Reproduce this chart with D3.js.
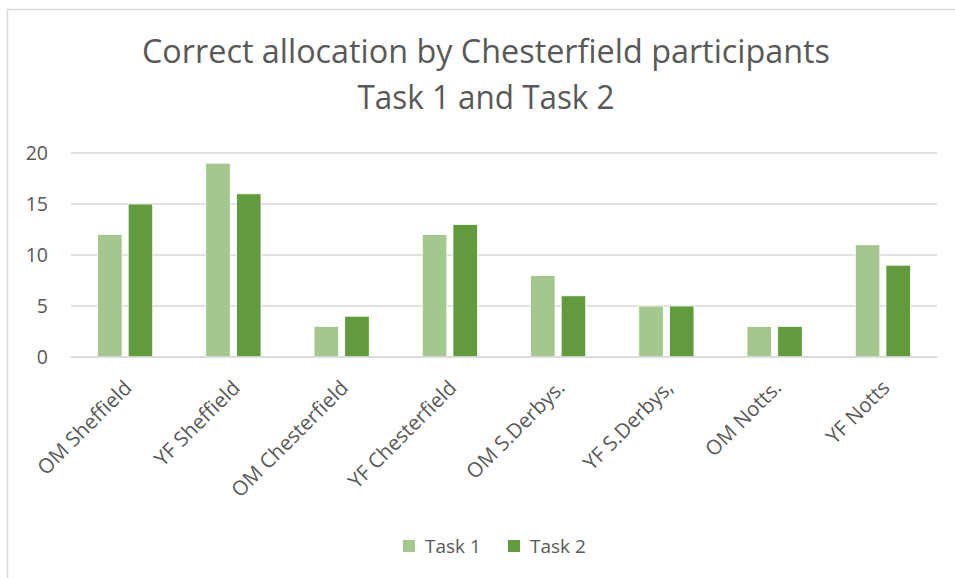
<!DOCTYPE html>
<html>
<head>
<meta charset="utf-8">
<script src="https://cdn.jsdelivr.net/npm/d3@7"></script>
<style>
  html, body { margin: 0; padding: 0; background: #fff; }
  svg { display: block; font-family: "Open Sans", "Noto Sans", sans-serif; }
</style>
</head>
<body>
<svg id="chart" width="955" height="578"></svg>
<script>
// Correct allocations per participant group, for each task
const categories = ["OM Sheffield", "YF Sheffield", "OM Chesterfield", "YF Chesterfield",
                    "OM S.Derbys.", "YF S.Derbys,", "OM Notts.", "YF Notts"];
const seriesNames = ["Task 1", "Task 2"];
const task1 = [12, 19, 3, 12, 8, 5, 3, 11];
const task2 = [15, 16, 4, 13, 6, 5, 3, 9];
const yTicks = [0, 5, 10, 15, 20];
const titleLines = ["Correct allocation by Chesterfield participants", "Task 1 and Task 2"];

const colors = { "Task 1": "#a4c78f", "Task 2": "#629b3d" };
const textColor = "#595959";
const gridColor = "#d9d9d9";

const svg = d3.select("#chart");
const W = 955, H = 578;
const plot = { left: 71, right: 937, top: 153, bottom: 357 };

// outer chart frame
svg.append("rect")
  .attr("x", 7.5).attr("y", 9.5)
  .attr("width", W + 20).attr("height", H + 20)
  .attr("fill", "#fff").attr("stroke", gridColor).attr("stroke-width", 1.5);

// title: a narrow-set heading, each line fitted to its width
const titleSize = 32;
const title = svg.append("g").attr("fill", textColor)
  .attr("font-size", titleSize).attr("text-anchor", "middle");
const lineSpecs = [
  { text: titleLines[0], y: 63, width: 688 },
  { text: titleLines[1], y: 109, width: 257 }
];
lineSpecs.forEach(s => {
  title.append("text")
    .attr("x", 486).attr("y", s.y)
    .attr("textLength", s.width)
    .attr("lengthAdjust", "spacingAndGlyphs")
    .text(s.text);
});

// scales
const x = d3.scaleBand()
  .domain(categories)
  .range([plot.left, plot.right])
  .paddingInner(0.49)
  .paddingOuter(0.245);
const xs = d3.scaleBand()
  .domain(seriesNames)
  .range([0, x.bandwidth()])
  .paddingInner(0.2);
const y = d3.scaleLinear().domain([0, 20]).range([plot.bottom, plot.top]);

// gridlines
svg.append("g")
  .selectAll("line")
  .data(yTicks)
  .join("line")
  .attr("x1", plot.left).attr("x2", plot.right)
  .attr("y1", d => y(d)).attr("y2", d => y(d))
  .attr("stroke", gridColor).attr("stroke-width", 1.3);

// y axis labels
const yAxis = svg.append("g")
  .attr("transform", `translate(${plot.left - 23},0)`)
  .call(d3.axisLeft(y).tickValues(yTicks).tickSize(0).tickPadding(0));
yAxis.select(".domain").remove();
yAxis.selectAll("text")
  .attr("fill", textColor)
  .attr("font-size", 19.5)
  .attr("font-family", "\"Open Sans\", sans-serif");

// bars
const rows = categories.map((c, i) => ({ cat: c, values: [
  { key: "Task 1", value: task1[i] },
  { key: "Task 2", value: task2[i] }
]}));

const groups = svg.append("g")
  .selectAll("g")
  .data(rows)
  .join("g")
  .attr("transform", d => `translate(${x(d.cat)},0)`);

groups.selectAll("rect")
  .data(d => d.values)
  .join("rect")
  .attr("x", d => xs(d.key))
  .attr("width", xs.bandwidth())
  .attr("y", d => y(d.value))
  .attr("height", d => y(0) - y(d.value))
  .attr("fill", d => colors[d.key])
  .attr("stroke", "#fff")
  .attr("stroke-width", 0.8);

// baseline
svg.append("line")
  .attr("x1", plot.left).attr("x2", plot.right)
  .attr("y1", plot.bottom).attr("y2", plot.bottom)
  .attr("stroke", gridColor).attr("stroke-width", 1.3);

// rotated category labels
const xAxis = svg.append("g")
  .attr("transform", `translate(0,${plot.bottom})`)
  .call(d3.axisBottom(x).tickSize(0).tickPadding(0));
xAxis.select(".domain").remove();
xAxis.selectAll("text")
  .attr("fill", textColor)
  .attr("font-size", 20.5)
  .attr("font-family", "\"Open Sans\", sans-serif")
  .attr("text-anchor", "end")
  .attr("dy", 0)
  .attr("transform", "translate(8,32) rotate(-45)");

// legend
const legend = svg.append("g").attr("transform", "translate(403,546)");
const lx = [0, 105];
seriesNames.forEach((s, i) => {
  const g = legend.append("g").attr("transform", `translate(${lx[i]},0)`);
  g.append("rect").attr("x", 0).attr("y", -6).attr("width", 12).attr("height", 12)
    .attr("fill", colors[s]);
  g.append("text").attr("x", 22).attr("y", 0).attr("dy", "0.35em")
    .attr("fill", textColor).attr("font-size", 19).text(s);
});
</script>
</body>
</html>
